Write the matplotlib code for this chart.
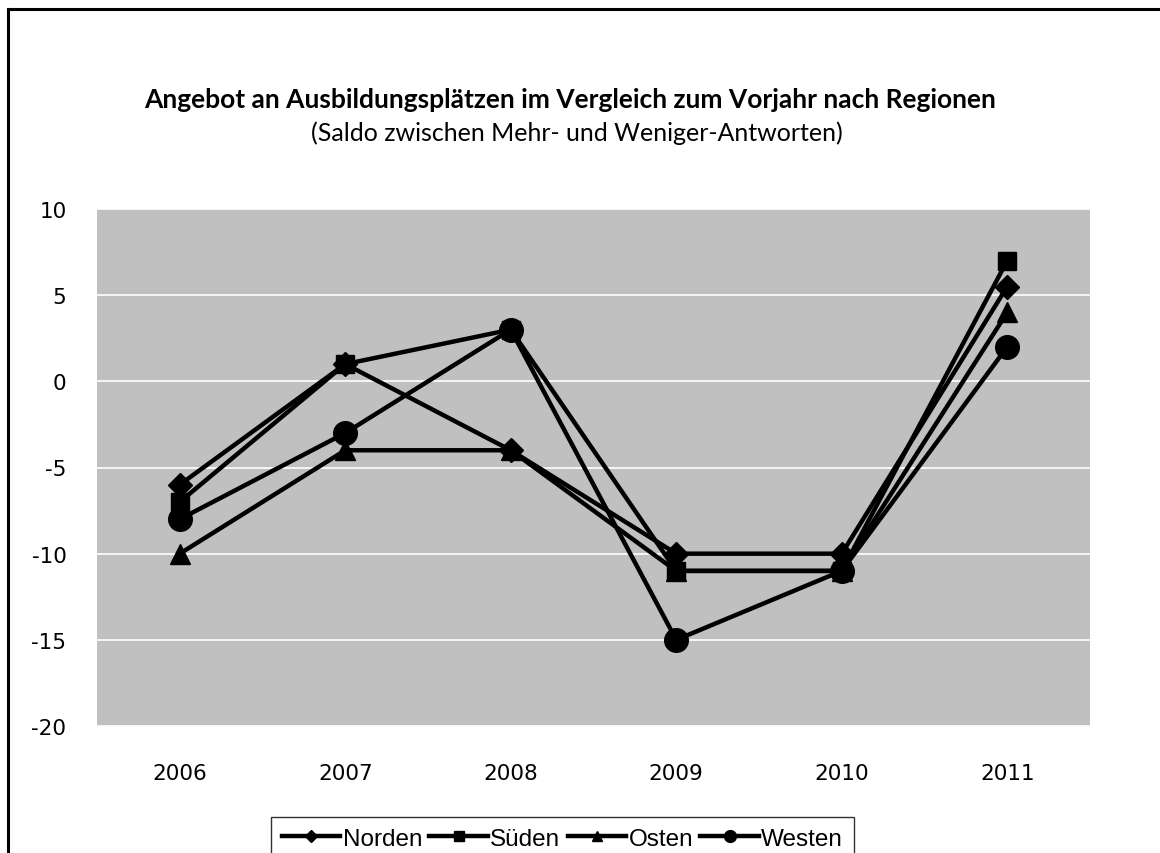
import matplotlib
matplotlib.use("Agg")
import matplotlib.pyplot as plt
from matplotlib.lines import Line2D

years = ["2006", "2007", "2008", "2009", "2010", "2011"]
norden = [-6, 1, -4, -10, -10, 5.5]
sueden = [-7, 1, 3, -11, -11, 7]
osten = [-10, -4, -4, -11, -11, 4]
westen = [-8, -3, 3, -15, -11, 2]
series_names = ["Norden", "Süden", "Osten", "Westen"]
yticks = [10, 5, 0, -5, -10, -15, -20]

title = "Angebot an Ausbildungsplätzen im Vergleich zum Vorjahr nach Regionen"
subtitle = "(Saldo zwischen Mehr- und Weniger-Antworten)"

W, H = 1160, 854
fig = plt.figure(figsize=(W / 100, H / 100), dpi=100)
fig.patch.set_facecolor("white")

# outer border (left and top only visible)
fig.add_artist(Line2D([8 / W, 8 / W], [0, 1 - 10 / H], transform=fig.transFigure,
                      color="black", lw=2.2))
fig.add_artist(Line2D([8 / W, 1], [1 - 10 / H, 1 - 10 / H], transform=fig.transFigure,
                      color="black", lw=2.2))

ax = fig.add_axes([97 / W, 1 - 727 / H, (1090 - 97) / W, (727 - 210) / H])
ax.set_facecolor("#c0c0c0")
for s in ax.spines.values():
    s.set_visible(False)

x = list(range(len(years)))
styles = [
    (norden, "D", 12),
    (sueden, "s", 13),
    (osten, "^", 15),
    (westen, "o", 17),
]
handles = []
for (vals, m, ms), name in zip(styles, series_names):
    h, = ax.plot(x, vals, color="black", lw=3.2, marker=m, markersize=ms,
                 markerfacecolor="black", markeredgecolor="black", label=name, zorder=3)
    handles.append(h)

ax.set_xlim(-0.5, len(years) - 0.5)
ax.set_ylim(-20, 10)
ax.set_yticks(yticks)
ax.set_yticklabels([str(v) for v in yticks], fontsize=15.5, family="DejaVu Sans")
ax.set_xticks(x)
ax.set_xticklabels(years, fontsize=15.5, family="DejaVu Sans")
ax.tick_params(axis="x", length=0, pad=27)
ax.tick_params(axis="y", length=0, pad=22)
ax.yaxis.grid(True, color="white", lw=1.2)
ax.set_axisbelow(True)

fig.text(570 / W, 1 - 100 / H, title, ha="center", va="center",
         fontsize=19, fontweight="bold", family="Lato")
fig.text(577 / W, 1 - 133 / H, subtitle, ha="center", va="center",
         fontsize=18, family="Lato")

leg = fig.legend(handles=handles, loc="upper left",
                 bbox_to_anchor=(271 / W, 1 - 818 / H), ncol=4,
                 frameon=True, fancybox=False, edgecolor="black",
                 prop={"family": "Liberation Sans", "size": 17.5},
                 markerscale=0.5, handlelength=2.4, handletextpad=0.1,
                 columnspacing=0.3, borderpad=0.45, borderaxespad=0)
leg.get_frame().set_linewidth(1.0)

fig.savefig("out.png", dpi=100)
